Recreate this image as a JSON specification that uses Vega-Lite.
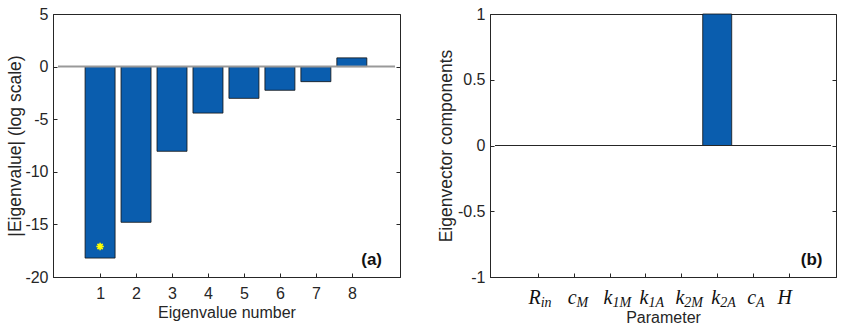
{
  "$schema": "https://vega.github.io/schema/vega-lite/v6.json",
  "background": "white",
  "padding": {"left": 6, "top": 5, "right": 5, "bottom": 0},
  "spacing": 90,
  "bounds": "flush",
  "config": {
    "view": {"stroke": "#262626", "strokeWidth": 1},
    "font": "Liberation Sans",
    "axis": {
      "grid": false,
      "domainColor": "#262626",
      "tickColor": "#262626",
      "labelColor": "#262626",
      "titleColor": "#262626",
      "labelFont": "Liberation Sans",
      "titleFont": "Liberation Sans",
      "labelFontSize": 16,
      "titleFontSize": 16,
      "titleFontWeight": "normal",
      "tickSize": -4
    }
  },
  "datasets": {
    "eig": [
      {"n": 1, "v": -18.2},
      {"n": 2, "v": -14.8},
      {"n": 3, "v": -8.05},
      {"n": 4, "v": -4.42},
      {"n": 5, "v": -3.02},
      {"n": 6, "v": -2.25},
      {"n": 7, "v": -1.43},
      {"n": 8, "v": 0.83}
    ],
    "star": [{"n": 1, "v": -17.1}],
    "vec": [
      {"i": 1, "base": "R", "sub": "in", "v": 0},
      {"i": 2, "base": "c", "sub": "M", "v": 0},
      {"i": 3, "base": "k", "sub": "1M", "v": 0},
      {"i": 4, "base": "k", "sub": "1A", "v": 0},
      {"i": 5, "base": "k", "sub": "2M", "v": 0},
      {"i": 6, "base": "k", "sub": "2A", "v": 1},
      {"i": 7, "base": "c", "sub": "A", "v": 0},
      {"i": 8, "base": "H", "sub": "", "v": 0}
    ]
  },
  "hconcat": [
    {
      "width": 347,
      "height": 263,
      "resolve": {"axis": {"y": "independent"}},
      "layer": [
        {
          "data": {"name": "eig"},
          "mark": {"type": "bar", "size": 30, "color": "#0A5DAE", "stroke": "#111111", "strokeWidth": 0.8},
          "encoding": {
            "x": {"field": "n", "type": "quantitative",
                  "scale": {"domain": [-0.17, 9.2], "nice": false, "zero": false},
                  "axis": {"values": [1,2,3,4,5,6,7,8], "title": "Eigenvalue number", "labelPadding": 12, "titlePadding": 3}},
            "y": {"field": "v", "type": "quantitative",
                  "scale": {"domain": [-20, 5], "nice": false},
                  "axis": {"values": [-20,-15,-10,-5,0,5], "title": "|Eigenvalue| (log scale)", "titleFontSize": 17.5, "labelPadding": 9, "titlePadding": 0,
                           "labelExpr": "replace(datum.label, '\u2212', '-')"}}
          }
        },
        {
          "data": {"values": [{"zero": 0, "x0": -0.17, "x1": 9.2}]},
          "mark": {"type": "rule", "color": "#999999", "strokeWidth": 2},
          "encoding": {
            "x": {"field": "x0", "type": "quantitative"},
            "x2": {"field": "x1"},
            "y": {"field": "zero", "type": "quantitative", "axis": null}
          }
        },
        {
          "data": {"name": "star"},
          "mark": {"type": "point", "shape": "M-1,0L1,0M0,-1L0,1M-0.7,-0.7L0.7,0.7M-0.7,0.7L0.7,-0.7", "filled": false, "stroke": "#FFFF00", "strokeWidth": 1.6, "size": 56, "opacity": 1},
          "encoding": {
            "x": {"field": "n", "type": "quantitative"},
            "y": {"field": "v", "type": "quantitative", "axis": null}
          }
        },
        {
          "data": {"values": [{"label": "(a)", "lx": 8.55, "ly": -18.4}]},
          "mark": {"type": "text", "fontWeight": "bold", "fontSize": 17, "font": "Liberation Sans", "baseline": "middle", "align": "center", "color": "#111111"},
          "encoding": {
            "x": {"field": "lx", "type": "quantitative"},
            "y": {"field": "ly", "type": "quantitative",
                  "axis": {"orient": "right", "values": [-20,-15,-10,-5,0,5], "labels": false, "title": null, "domain": false}},
            "text": {"field": "label"}
          }
        }
      ]
    },
    {
      "width": 346,
      "height": 263,
      "resolve": {"axis": {"y": "independent"}},
      "layer": [
        {
          "data": {"name": "vec"},
          "mark": {"type": "bar", "size": 29, "color": "#0A5DAE", "stroke": "#111111", "strokeWidth": 0.8},
          "encoding": {
            "x": {"field": "i", "type": "quantitative",
                  "scale": {"domain": [-0.19, 9.17], "nice": false, "zero": false},
                  "axis": {"values": [1,2,3,4,5,6,7,8], "labels": false, "title": "Parameter", "titlePadding": 32}},
            "y": {"field": "v", "type": "quantitative",
                  "scale": {"domain": [-1, 1], "nice": false},
                  "axis": {"values": [-1,-0.5,0,0.5,1], "format": ".1~f", "title": "Eigenvector components", "titleFontSize": 17.5, "labelPadding": 9, "titlePadding": 2,
                           "labelExpr": "replace(datum.label, '\u2212', '-')"}}
          }
        },
        {
          "data": {"values": [{"zero": 0, "x0": -0.19, "x1": 9.17}]},
          "mark": {"type": "rule", "color": "#262626", "strokeWidth": 1},
          "encoding": {
            "x": {"field": "x0", "type": "quantitative"},
            "x2": {"field": "x1"},
            "y": {"field": "zero", "type": "quantitative", "axis": null}
          }
        },
        {
          "data": {"name": "vec"},
          "mark": {"type": "text", "font": "Liberation Serif", "fontStyle": "italic", "fontSize": 20, "align": "right", "baseline": "alphabetic", "dx": 3, "dy": 27, "color": "#111111"},
          "encoding": {
            "x": {"field": "i", "type": "quantitative"},
            "y": {"datum": -1, "type": "quantitative", "axis": null},
            "text": {"field": "base"}
          }
        },
        {
          "data": {"name": "vec"},
          "mark": {"type": "text", "font": "Liberation Serif", "fontStyle": "italic", "fontSize": 14, "align": "left", "baseline": "alphabetic", "dx": 3, "dy": 30, "color": "#111111"},
          "encoding": {
            "x": {"field": "i", "type": "quantitative"},
            "y": {"datum": -1, "type": "quantitative", "axis": null},
            "text": {"field": "sub"}
          }
        },
        {
          "data": {"values": [{"label": "(b)", "lx": 8.63, "ly": -0.873}]},
          "mark": {"type": "text", "fontWeight": "bold", "fontSize": 17, "font": "Liberation Sans", "baseline": "middle", "align": "center", "color": "#111111"},
          "encoding": {
            "x": {"field": "lx", "type": "quantitative"},
            "y": {"field": "ly", "type": "quantitative",
                  "axis": {"orient": "right", "values": [-1,-0.5,0,0.5,1], "labels": false, "title": null, "domain": false}},
            "text": {"field": "label"}
          }
        }
      ]
    }
  ]
}
